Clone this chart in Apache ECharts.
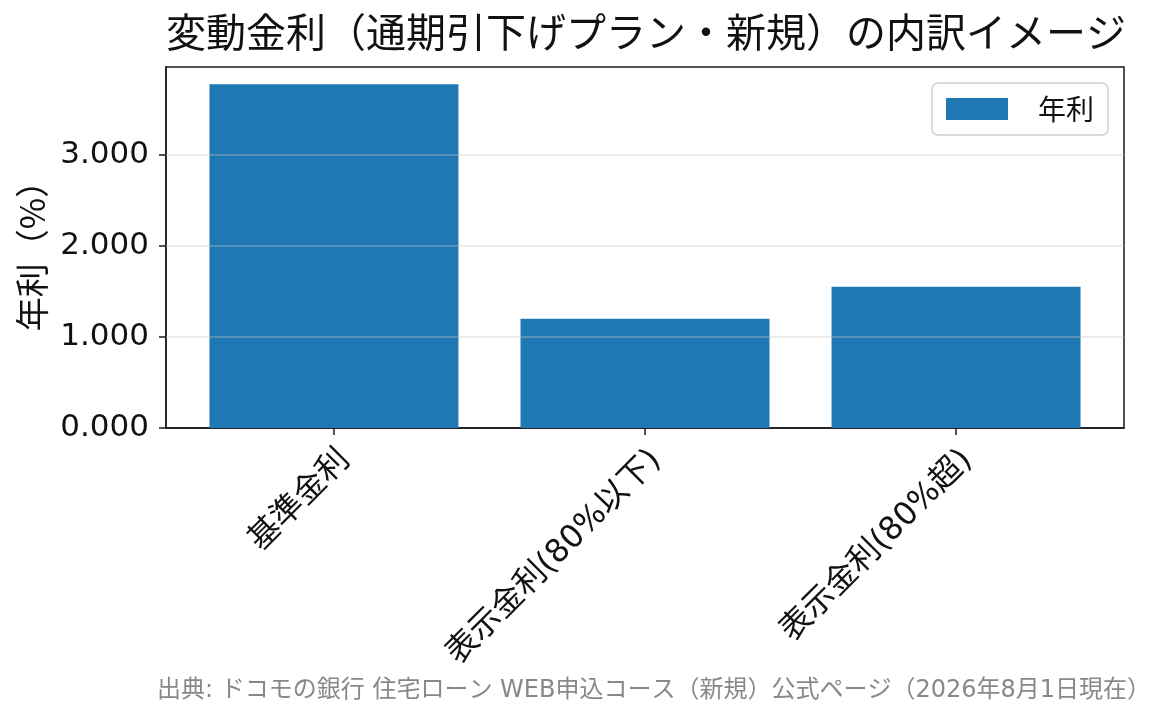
<!DOCTYPE html>
<html>
<head>
<meta charset="utf-8">
<script src="https://cdn.jsdelivr.net/npm/echarts@6/dist/echarts.min.js"></script>
<style>
  html, body { margin: 0; padding: 0; background: #fff; }
  #chart { width: 1165px; height: 725px; }
</style>
</head>
<body>
<div id="chart"></div>
<script>
// データ
var categories = ["基準金利", "表示金利(80%以下)", "表示金利(80%超)"];
var rates = [3.775, 1.2, 1.55];
var yTicks = [0, 1, 2, 3];
var seriesName = "年利";

var CJK = '"Noto Sans CJK JP", "Noto Sans", sans-serif';
var MIX = '"DejaVu Sans", "Noto Sans CJK JP", sans-serif';

var chart = echarts.init(document.getElementById("chart"));

// 棒データ（x はカテゴリの位置）
var barData = rates.map(function (v, i) { return [i, v]; });
var catPos = categories.map(function (c, i) { return i; });

var option = {
    animation: false,
    textStyle: { fontFamily: CJK },
    title: {
        text: "変動金利（通期引下げプラン・新規）の内訳イメージ",
        left: 641,
        top: 7,
        textAlign: "center",
        textStyle: { fontSize: 40, fontWeight: "normal", color: "#111", fontFamily: CJK }
    },
    legend: {
        data: [seriesName],
        right: 57,
        top: 83,
        itemWidth: 62,
        itemHeight: 22,
        padding: [12, 14],
        borderColor: "#d0d0d0",
        borderWidth: 1.5,
        borderRadius: 6,
        icon: "rect",
        textStyle: { fontSize: 28, color: "#111", padding: [0, 0, 0, 25], fontFamily: CJK }
    },
    grid: {
        left: 166,
        right: 41,
        top: 67,
        bottom: 297,
        show: true,
        borderColor: "#1a1a1a",
        borderWidth: 1.5,
        backgroundColor: "transparent"
    },
    xAxis: {
        type: "value",
        min: -0.54,
        max: 2.54,
        splitLine: { show: false },
        axisLine: { show: true, onZero: false, lineStyle: { color: "#1a1a1a", width: 1.5 } },
        axisTick: {
            show: true,
            length: 7,
            customValues: catPos,
            lineStyle: { color: "#1a1a1a", width: 1.5 }
        },
        axisLabel: {
            customValues: catPos,
            rotate: 45,
            margin: 16,
            verticalAlign: "top",
            fontSize: 32,
            color: "#111",
            fontFamily: MIX,
            formatter: function (v) { return categories[Math.round(v)]; }
        }
    },
    yAxis: {
        type: "value",
        min: 0,
        max: 3.964,
        interval: 1,
        name: "年利（%）",
        nameLocation: "middle",
        nameRotate: 90,
        nameGap: 117,
        nameTextStyle: { fontSize: 34, color: "#111", fontFamily: CJK },
        splitLine: { show: false },
        axisLine: { show: true, onZero: false, lineStyle: { color: "#1a1a1a", width: 1.5 } },
        axisTick: { show: true, length: 7, lineStyle: { color: "#1a1a1a", width: 1.5 } },
        axisLabel: {
            fontSize: 31,
            color: "#111",
            margin: 17,
            fontFamily: MIX,
            showMaxLabel: false,
            formatter: function (v) { return v.toFixed(3); }
        }
    },
    series: [
        {
            name: seriesName,
            type: "bar",
            data: barData,
            barWidth: 249,
            itemStyle: { color: "#1f77b4" },
            // グリッド線（棒の上に薄く重ねる）
            markLine: {
                silent: true,
                symbol: "none",
                label: { show: false },
                lineStyle: { color: "rgba(200,200,200,0.45)", type: "solid", width: 1.5 },
                data: yTicks.filter(function (t) { return t > 0; }).map(function (t) { return { yAxis: t }; })
            }
        }
    ],
    graphic: [
        {
            type: "text",
            right: 14,
            top: 679,
            style: {
                text: "出典: ドコモの銀行 住宅ローン WEB申込コース（新規）公式ページ（2026年8月1日現在）",
                fontSize: 24,
                fill: "#888",
                fontFamily: MIX
            }
        }
    ]
};

chart.setOption(option);
</script>
</body>
</html>
